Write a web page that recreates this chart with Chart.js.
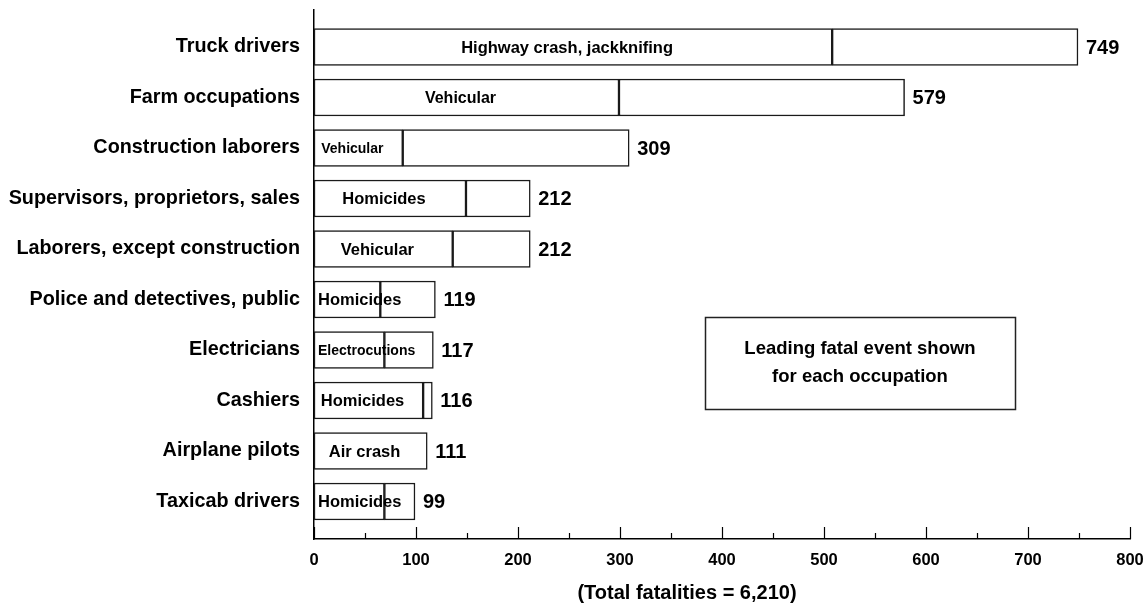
<!DOCTYPE html>
<html>
<head>
<meta charset="utf-8">
<script src="https://cdn.jsdelivr.net/npm/chart.js@4/dist/chart.umd.min.js"></script>
<style>
  html, body { margin: 0; padding: 0; background: #fff; }
  #wrap { width: 1146px; height: 608px; }
</style>
</head>
<body>
<div id="wrap"><canvas id="c" width="1146" height="608"></canvas></div>
<script>
// ---- data ----
const occupations = [
  'Truck drivers', 'Farm occupations', 'Construction laborers',
  'Supervisors, proprietors, sales', 'Laborers, except construction',
  'Police and detectives, public', 'Electricians', 'Cashiers',
  'Airplane pilots', 'Taxicab drivers'
];
const leadingEvents = [
  'Highway crash, jackknifing', 'Vehicular', 'Vehicular', 'Homicides',
  'Vehicular', 'Homicides', 'Electrocutions', 'Homicides', 'Air crash', 'Homicides'
];
const leadingCounts = [508, 299, 87, 149, 136, 65, 69, 107, 111, 69];
const totals = [749, 579, 309, 212, 212, 119, 117, 116, 111, 99];
const xTicks = [0, 100, 200, 300, 400, 500, 600, 700, 800];
const axisTitle = '(Total fatalities = 6,210)';
const noteLines = ['Leading fatal event shown', 'for each occupation'];

// ---- styles (kept apart from data) ----
const FONT = "'Liberation Sans', Arial, sans-serif";
const eventFontSizes = [16.5, 16, 14, 16.5, 16.5, 16.5, 14, 16.5, 16.5, 16.5];

const otherCounts = totals.map((t, i) => (t - leadingCounts[i]) > 0 ? t - leadingCounts[i] : null);

const barStyle = {
  backgroundColor: '#ffffff',
  borderColor: '#1a1a1a',
  borderWidth: 1.5,
  borderSkipped: false,
  barThickness: 37
};

const annot = {
  id: 'annot',
  afterDraw(chart) {
    const { ctx, scales: { x, y } } = chart;
    ctx.save();
    ctx.fillStyle = '#000';
    const x0 = x.getPixelForValue(0);
    occupations.forEach((occ, i) => {
      const yc = y.getPixelForValue(i);
      ctx.font = `bold ${eventFontSizes[i]}px ${FONT}`;
      const tw = ctx.measureText(leadingEvents[i]).width;
      const seg = x.getPixelForValue(leadingCounts[i]) - x0;
      const cx = x0 + Math.max(seg, tw + 20) / 2 - 6;
      ctx.textAlign = 'center';
      ctx.textBaseline = 'middle';
      ctx.fillText(leadingEvents[i], cx, yc + 1);
      ctx.font = `bold 20px ${FONT}`;
      ctx.textAlign = 'left';
      ctx.fillText(String(totals[i]), x.getPixelForValue(totals[i]) + 8, yc + 1);
    });
    // inward tick marks on x axis
    const yb = chart.chartArea.bottom;
    ctx.strokeStyle = '#000';
    ctx.lineWidth = 1.2;
    for (let v = x.min; v <= x.max; v += 50) {
      const px = Math.round(x.getPixelForValue(v)) + 0.5;
      const len = (v % 100 === 0) ? 12 : 6;
      ctx.beginPath();
      ctx.moveTo(px, yb);
      ctx.lineTo(px, yb - len);
      ctx.stroke();
    }
    // note box
    ctx.strokeStyle = '#222';
    ctx.lineWidth = 1.5;
    ctx.strokeRect(705.5, 317.5, 310, 92);
    ctx.font = `bold 18.5px ${FONT}`;
    ctx.textAlign = 'center';
    ctx.textBaseline = 'middle';
    ctx.fillText(noteLines[0], 860, 349);
    ctx.fillText(noteLines[1], 860, 377);
    // axis title
    ctx.font = `bold 20px ${FONT}`;
    ctx.fillText(axisTitle, 687, 593);
    ctx.restore();
  }
};

new Chart(document.getElementById('c'), {
  type: 'bar',
  data: {
    datasets: [
      Object.assign({ label: 'Leading event', data: leadingCounts.map((v, i) => ({ x: v, y: i })) }, barStyle),
      Object.assign({ label: 'Other', data: otherCounts.map((v, i) => ({ x: v, y: i })) }, barStyle)
    ]
  },
  options: {
    indexAxis: 'y',
    responsive: false,
    animation: false,
    devicePixelRatio: 1,
    layout: { padding: { top: 10, right: 16, left: 0, bottom: 0 } },
    plugins: { legend: { display: false }, tooltip: { enabled: false }, title: { display: false } },
    scales: {
      x: {
        type: 'linear',
        stacked: true,
        offset: false,
        min: 0,
        max: 800,
        afterBuildTicks: s => { s.ticks = xTicks.map(v => ({ value: v })); },
        afterFit: s => { s.height = 69; s.paddingLeft = 0; s.paddingRight = 0; },
        grid: { display: false, drawTicks: false, offset: false },
        border: { display: true, color: '#000', width: 1.5 },
        ticks: {
          color: '#000',
          padding: 12,
          maxRotation: 0,
          font: { family: FONT, size: 16.5, weight: 'bold' }
        }
      },
      y: {
        type: 'linear',
        stacked: true,
        reverse: true,
        offset: false,
        min: -0.733,
        max: 9.743,
        afterBuildTicks: s => { s.ticks = occupations.map((_, i) => ({ value: i })); },
        afterFit: s => { s.width = 314; s.paddingTop = 0; s.paddingBottom = 0; },
        grid: { display: false, drawTicks: false, offset: false },
        border: { display: true, color: '#000', width: 1.5 },
        ticks: {
          color: '#000',
          padding: 14,
          autoSkip: false,
          callback: v => occupations[v],
          font: { family: FONT, size: 19.8, weight: 'bold' }
        }
      }
    }
  },
  plugins: [annot]
});
</script>
</body>
</html>
